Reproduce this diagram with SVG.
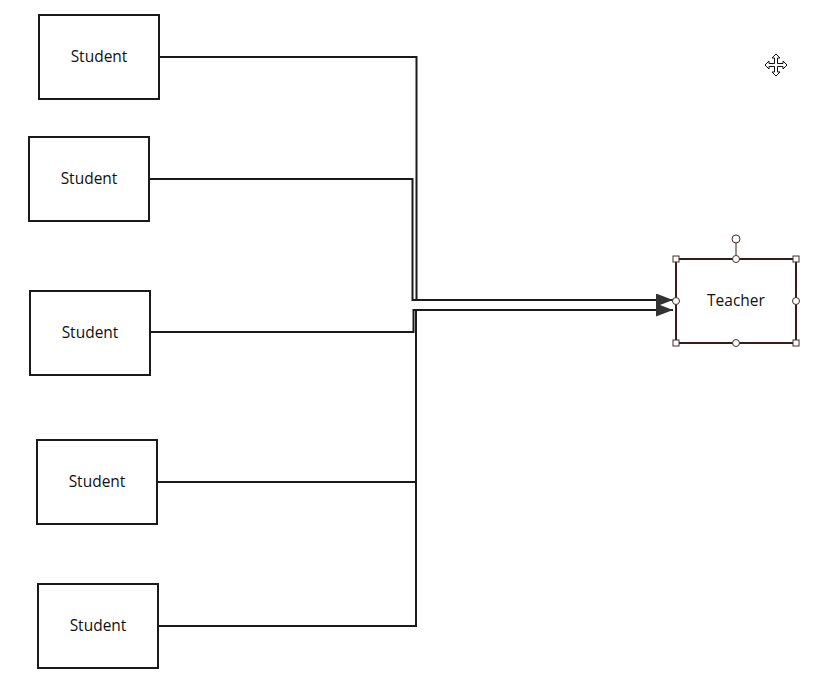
<svg xmlns="http://www.w3.org/2000/svg" width="836" height="679" viewBox="0 0 836 679">
<defs>
<style>
.box{fill:#fff;stroke:#1a1a1a;stroke-width:2}
.lbl{font-family:"Open Sans","Noto Sans","Liberation Sans",sans-serif;font-size:15.5px;fill:#111;text-anchor:middle;dominant-baseline:central}
.wire{fill:none;stroke:#1a1a1a;stroke-width:2}
.h{fill:#fff;stroke:#4a2a2a;stroke-width:1}
</style>
<marker id="arr" markerUnits="userSpaceOnUse" markerWidth="20" markerHeight="14" refX="17" refY="6.5" orient="auto">
<path d="M0,0 L17,6.5 L0,13 Z" fill="#333"/>
</marker>
</defs>
<rect width="836" height="679" fill="#fff"/>
<g id="connectors">
<path class="wire" d="M159,57 H416.5 V300" />
<path class="wire" d="M149,179 H412.5 V300 H673" marker-end="url(#arr)"/>
<path class="wire" d="M150,332 H413.5 V310 H673" marker-end="url(#arr)"/>
<path class="wire" d="M157,482 H416 V310"/>
<path class="wire" d="M158,626 H416 V310"/>
</g>
<g id="student1"><rect class="box" x="39" y="15" width="120" height="84"/><text class="lbl" x="99" y="56">Student</text></g>
<g id="student2"><rect class="box" x="29" y="137" width="120" height="84"/><text class="lbl" x="89" y="178">Student</text></g>
<g id="student3"><rect class="box" x="30" y="291" width="120" height="84"/><text class="lbl" x="90" y="332">Student</text></g>
<g id="student4"><rect class="box" x="37" y="440" width="120" height="84"/><text class="lbl" x="97" y="481">Student</text></g>
<g id="student5"><rect class="box" x="38" y="584" width="120" height="84"/><text class="lbl" x="98" y="625">Student</text></g>
<g id="teacher">
<rect x="676" y="259" width="120" height="84" fill="#fff" stroke="#3a1c1c" stroke-width="2"/>
<text class="lbl" x="736" y="300">Teacher</text>
<line x1="736" y1="243" x2="736" y2="259" stroke="#3a1c1c" stroke-width="1"/>
<circle class="h" cx="736" cy="239" r="4"/>
<rect class="h" x="673" y="256" width="6" height="6"/>
<rect class="h" x="793" y="256" width="6" height="6"/>
<rect class="h" x="673" y="340" width="6" height="6"/>
<rect class="h" x="793" y="340" width="6" height="6"/>
<circle class="h" cx="736" cy="259" r="3.5"/>
<circle class="h" cx="736" cy="343" r="3.5"/>
<circle class="h" cx="676" cy="301" r="3.5"/>
<circle class="h" cx="796" cy="301" r="3.5"/>
</g>
<g id="cursor" transform="translate(776,65)">
<path d="M0,-11 L4,-7 L1.5,-7 L1.5,-1.5 L7,-1.5 L7,-4 L11,0 L7,4 L7,1.5 L1.5,1.5 L1.5,7 L4,7 L0,11 L-4,7 L-1.5,7 L-1.5,1.5 L-7,1.5 L-7,4 L-11,0 L-7,-4 L-7,-1.5 L-1.5,-1.5 L-1.5,-7 L-4,-7 Z" fill="#fff" stroke="#111" stroke-width="1"/>
</g>
</svg>
